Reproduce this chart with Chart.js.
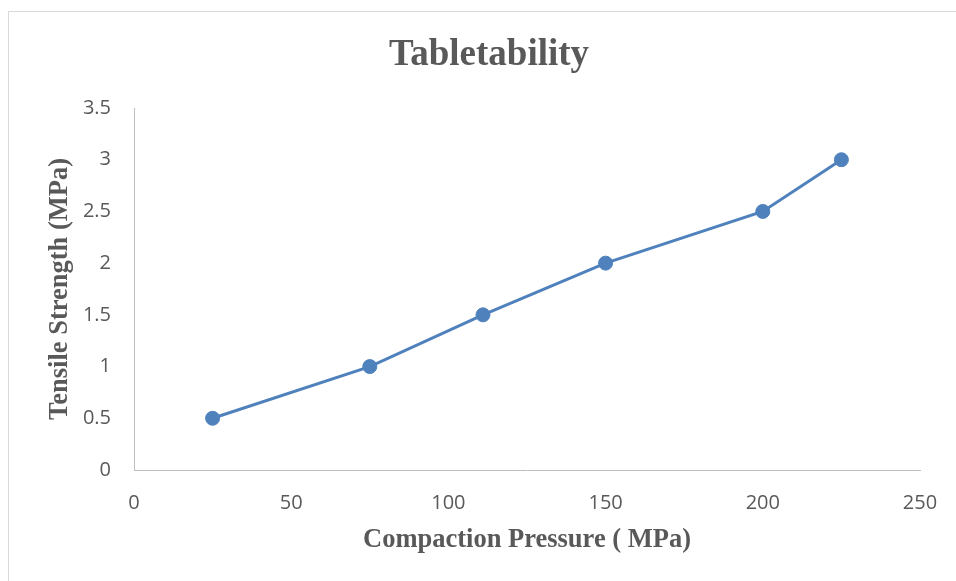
<!DOCTYPE html>
<html>
<head>
<meta charset="utf-8">
<script src="https://cdn.jsdelivr.net/npm/chart.js@4/dist/chart.umd.min.js"></script>
<style>
  html, body { margin: 0; padding: 0; background: #fff; }
  #frame {
    position: absolute; left: 8px; top: 11px; width: 960px; height: 580px;
    border-top: 1px solid #d9d9d9; border-left: 1px solid #d9d9d9;
  }
  #wrap { position: absolute; left: 0; top: 0; width: 956px; height: 581px; }
</style>
</head>
<body>
<div id="frame"></div>
<div id="wrap"><canvas id="lineChart"></canvas></div>
<script>
// data
var pressure = [25, 75, 111, 150, 200, 225];
var tensile = [0.5, 1, 1.5, 2, 2.5, 3];
var xTicks = [0, 50, 100, 150, 200, 250];
var yTicks = [0, 0.5, 1, 1.5, 2, 2.5, 3, 3.5];

var textGray = "#595959";
var axisGray = "#bfbfbf";
var lineBlue = "#4f81bd";
var serif = "'Liberation Serif', 'Times New Roman', serif";
var sans = "'Open Sans', 'Liberation Sans', sans-serif";

var points = pressure.map(function (p, i) {
  return { x: p, y: tensile[i] };
});

// the title in the picture is centred on the whole frame, not the plot
var centreTitle = {
  id: "centreTitle",
  afterLayout: function (chart) {
    var t = chart.titleBlock;
    if (!t) return;
    t.left = 0;
    t.right = chart.width + 22;
    t.width = t.right - t.left;
  },
};

var ctx = document.getElementById("lineChart").getContext("2d");
var lineChart = new Chart(ctx, {
  type: "line",
  data: {
    datasets: [
      {
        label: "Tensile Strength",
        data: points,
        borderColor: lineBlue,
        backgroundColor: lineBlue,
        borderWidth: 3,
        pointRadius: 7,
        pointBorderWidth: 1,
        pointBorderColor: lineBlue,
        pointBackgroundColor: lineBlue,
        fill: false,
        tension: 0,
      },
    ],
  },
  plugins: [centreTitle],
  options: {
    responsive: true,
    maintainAspectRatio: false,
    animation: false,
    layout: { padding: { top: 0, left: 0, right: 36, bottom: 0 } },
    plugins: {
      legend: { display: false },
      tooltip: { enabled: false },
      title: {
        display: true,
        text: "Tabletability",
        color: textGray,
        font: { family: serif, size: 37, weight: "bold" },
        padding: { top: 32.8, bottom: 30.8 },
      },
    },
    scales: {
      x: {
        type: "linear",
        min: 0,
        max: 250,
        grid: { display: false, drawTicks: false },
        border: { display: true, color: axisGray, width: 1 },
        afterBuildTicks: function (axis) {
          axis.ticks = xTicks.map(function (v) { return { value: v }; });
        },
        afterFit: function (axis) {
          axis.height = 111;
          axis.paddingLeft = 0;
          axis.paddingRight = 0;
        },
        ticks: {
          color: textGray,
          padding: 21,
          maxRotation: 0,
          font: { family: sans, size: 20 },
          callback: function (v) { return String(v); },
        },
        title: {
          display: true,
          text: "Compaction Pressure ( MPa)",
          color: textGray,
          font: { family: serif, size: 26.5, weight: "bold" },
          padding: { top: 0, bottom: 25.1 },
        },
      },
      y: {
        type: "linear",
        min: 0,
        max: 3.5,
        grid: { display: false, drawTicks: false },
        border: { display: true, color: axisGray, width: 1 },
        afterBuildTicks: function (axis) {
          axis.ticks = yTicks.map(function (v) { return { value: v }; });
        },
        afterFit: function (axis) { axis.width = 134; },
        ticks: {
          color: textGray,
          padding: 23,
          font: { family: sans, size: 20 },
          callback: function (v) { return String(v); },
        },
        title: {
          display: true,
          text: "Tensile Strength (MPa)",
          color: textGray,
          font: { family: serif, size: 26.5, weight: "bold" },
          padding: { top: 44.1, bottom: 0 },
        },
      },
    },
  },
});
</script>
</body>
</html>
